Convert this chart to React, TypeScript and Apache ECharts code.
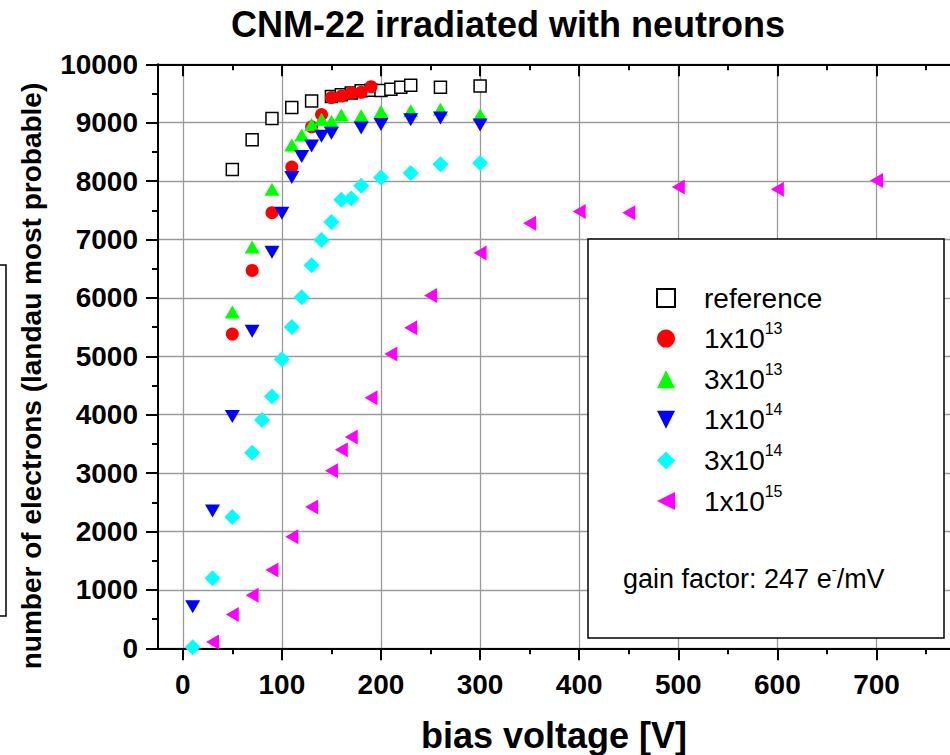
import React, { useEffect, useRef } from 'react';
import * as echarts from 'echarts';

const FONT = '"Liberation Sans", Arial, Helvetica, sans-serif';

// axis ticks
const xTickValues = [0, 100, 200, 300, 400, 500, 600, 700, 800];
const xLabelValues = [0, 100, 200, 300, 400, 500, 600, 700];
const yTickStep = 1000;

// series names
const seriesNames = ['reference', '1x10^13', '3x10^13', '1x10^14', '3x10^14', '1x10^15'];

// reference (unirradiated)
const refV = [50, 70, 90, 110, 130, 150, 160, 170, 180, 190, 200, 210, 220, 230, 260, 300];
const refN = [8200, 8710, 9070, 9260, 9370, 9450, 9480, 9510, 9545, 9555, 9550, 9572, 9606, 9640, 9606, 9628];

// 1x10^13
const v1e13 = [50, 70, 90, 110, 130, 140, 150, 160, 170, 180, 190];
const n1e13 = [5380, 6470, 7460, 8240, 8930, 9140, 9430, 9457, 9514, 9520, 9617];

// 3x10^13
const v3e13 = [50, 70, 90, 110, 120, 130, 140, 150, 160, 180, 200, 230, 260, 300];
const n3e13 = [5760, 6870, 7860, 8620, 8790, 8970, 9060, 9020, 9130, 9120, 9190, 9205, 9230, 9130];

// 1x10^14
const v1e14 = [10, 30, 50, 70, 90, 100, 110, 120, 130, 140, 150, 180, 200, 230, 260, 300];
const n1e14 = [710, 2350, 3970, 5430, 6780, 7450, 8060, 8420, 8600, 8770, 8820, 8910, 8970, 9050, 9080, 8960];

// 3x10^14
const v3e14 = [10, 30, 50, 70, 80, 90, 100, 110, 120, 130, 140, 150, 160, 170, 180, 200, 230, 260, 300];
const n3e14 = [20, 1200, 2250, 3350, 3910, 4310, 4950, 5500, 6010, 6560, 6990, 7300, 7680, 7700, 7920, 8060, 8140, 8290, 8310];

// 1x10^15
const v1e15 = [30, 50, 70, 90, 110, 130, 150, 160, 170, 190, 210, 230, 250, 300, 350, 400, 450, 500, 600, 700];
const n1e15 = [110, 580, 910, 1340, 1910, 2420, 3040, 3400, 3620, 4290, 5040, 5490, 6040, 6770, 7280, 7480, 7460, 7900, 7860, 8010];

const zip = (a: number[], b: number[]) => a.map((v, i) => [v, b[i]]);

export default function App() {
  const ref = useRef<HTMLDivElement>(null);
  useEffect(() => {
    if (!ref.current) return;
    const chart = echarts.init(ref.current, null, { renderer: 'svg' });

    const axisBlack = { color: '#000', width: 2 };
    const labelStyle = { fontSize: 28, fontWeight: 'bold', fontFamily: FONT, color: '#000' };
    const gridLine = { color: '#9a9a9a', width: 1.3 };

    const legendIcons: Record<string, string> = {
      reference: 'rect',
      '1x10^13': 'circle',
      '3x10^13': 'path://M5,0 L10,10 L0,10 Z',
      '1x10^14': 'path://M0,0 L10,0 L5,10 Z',
      '3x10^14': 'diamond',
      '1x10^15': 'path://M10,0 L10,10 L0,5 Z',
    };

    const option: any = {
      animation: false,
      backgroundColor: '#fff',
      grid: { left: 158, right: -25.6, top: 64.3, bottom: 106.7, outerBoundsMode: 'none' },
      xAxis: [
        {
          type: 'value', position: 'bottom', min: -25, max: 800, splitNumber: 8,
          axisLine: { show: true, onZero: false, lineStyle: axisBlack },
          axisTick: { show: true, length: 12, lineStyle: axisBlack, customValues: xTickValues },
          minorTick: { show: true, splitNumber: 2, length: 6, lineStyle: axisBlack },
          axisLabel: {
            ...labelStyle, margin: 22, customValues: xLabelValues,
            formatter: (v: number) => (v % 100 === 0 && v < 800 ? String(v) : ''),
          },
          splitLine: { show: true, lineStyle: gridLine },
        },
        {
          type: 'value', position: 'top', min: -25, max: 800, splitNumber: 8,
          axisLine: { show: true, onZero: false, lineStyle: axisBlack },
          axisTick: { show: true, inside: true, length: 12, lineStyle: axisBlack, customValues: xTickValues },
          minorTick: { show: true, splitNumber: 2, length: 6, lineStyle: axisBlack },
          axisLabel: { show: false },
          splitLine: { show: false },
        },
      ],
      yAxis: {
        type: 'value', min: 0, max: 10000, interval: yTickStep,
        axisLine: { show: true, onZero: false, lineStyle: axisBlack },
        axisTick: { show: true, length: 12, lineStyle: axisBlack },
        minorTick: { show: true, splitNumber: 2, length: 6, lineStyle: axisBlack },
        axisLabel: { ...labelStyle, margin: 20, formatter: (v: number) => String(v) },
        splitLine: { show: true, lineStyle: gridLine },
      },
      legend: {
        data: seriesNames.map((n) => ({ name: n, icon: legendIcons[n] })),
        orient: 'vertical',
        left: 651,
        top: 279,
        itemWidth: 18,
        itemHeight: 18,
        itemGap: 8.6,
        selectedMode: false,
        symbolRotate: 0,
        z: 6,
        formatter: (name: string) => {
          if (name.indexOf('^') >= 0) {
            const [a, b] = name.split('^');
            return `{m|${a}}{s|${b}}`;
          }
          return `{m|${name}}`;
        },
        textStyle: {
          color: '#000', fontFamily: FONT,
          rich: {
            m: { fontSize: 28, lineHeight: 36, fontFamily: FONT, color: '#000', padding: [0, 0, 0, 24] },
            s: { fontSize: 16, lineHeight: 6, fontFamily: FONT, color: '#000', verticalAlign: 'top' },
          },
        },
      },
      series: [
        {
          name: seriesNames[0], type: 'scatter', data: zip(refV, refN), symbol: 'rect', symbolSize: 12,
          itemStyle: { color: '#fff', borderColor: '#000', borderWidth: 1.5, opacity: 1 },
        },
        {
          name: seriesNames[1], type: 'scatter', data: zip(v1e13, n1e13), symbol: 'circle', symbolSize: 13,
          itemStyle: { color: '#ff0000', opacity: 1 },
        },
        {
          name: seriesNames[2], type: 'scatter', data: zip(v3e13, n3e13), symbol: 'triangle', symbolSize: [15, 13],
          itemStyle: { color: '#00ff00', opacity: 1 },
        },
        {
          name: seriesNames[3], type: 'scatter', data: zip(v1e14, n1e14), symbol: 'triangle', symbolSize: [15, 13],
          symbolRotate: 180, itemStyle: { color: '#0000ff', opacity: 1 },
        },
        {
          name: seriesNames[4], type: 'scatter', data: zip(v3e14, n3e14), symbol: 'diamond', symbolSize: 16,
          itemStyle: { color: '#00ffff', opacity: 1 },
        },
        {
          name: seriesNames[5], type: 'scatter', data: zip(v1e15, n1e15), symbol: 'triangle', symbolSize: [15, 13],
          symbolRotate: 90, itemStyle: { color: '#ff00ff', opacity: 1 },
        },
      ],
      graphic: [
        {
          type: 'text', x: 508, y: 24, z: 10,
          style: { text: 'CNM-22 irradiated with neutrons', font: `bold 36px ${FONT}`, fill: '#000', align: 'center', verticalAlign: 'middle' },
        },
        {
          type: 'text', x: 31, y: 376, rotation: Math.PI / 2, z: 10,
          style: { text: 'number of electrons (landau most probable)', font: `bold 28px ${FONT}`, fill: '#000', align: 'center', verticalAlign: 'middle' },
        },
        {
          type: 'text', x: 554, y: 735, z: 10,
          style: { text: 'bias voltage [V]', font: `bold 36px ${FONT}`, fill: '#000', align: 'center', verticalAlign: 'middle' },
        },
        {
          type: 'rect', z: 3,
          shape: { x: 588, y: 239, width: 356, height: 399 },
          style: { fill: '#fff', stroke: '#000', lineWidth: 1.5 },
        },
        {
          type: 'rect', z: 3,
          shape: { x: -50, y: 265, width: 56, height: 351 },
          style: { fill: 'none', stroke: '#000', lineWidth: 1.5 },
        },
        {
          type: 'text', x: 623, y: 578.5, z: 10,
          style: {
            text: '{m|gain factor: 247 e}{s|-}{m|/mV}',
            align: 'left', verticalAlign: 'middle',
            rich: {
              m: { fontSize: 27, lineHeight: 34, fontFamily: FONT, fill: '#000', color: '#000' },
              s: { fontSize: 15, lineHeight: 8, fontFamily: FONT, fill: '#000', color: '#000', verticalAlign: 'top' },
            },
          },
        },
      ],
    };

    chart.setOption(option);
    return () => chart.dispose();
  }, []);

  return <div ref={ref} style={{ position: 'fixed', left: 0, top: 0, width: 950, height: 755 }} />;
}
